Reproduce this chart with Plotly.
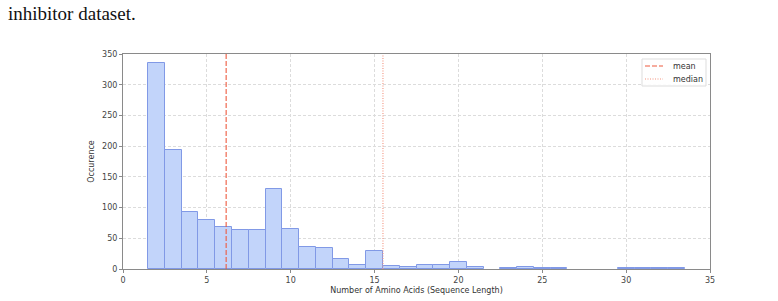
import plotly.graph_objects as go

# Data
bin_centers = list(range(2, 34))
counts = [335, 193, 93, 80, 68, 64, 64, 130, 65, 36, 34, 17, 6, 29, 5, 4,
          6, 6, 11, 3, 0, 2, 4, 1, 1, 0, 0, 0, 1, 2, 1, 1]
mean_value = 6.15
median_value = 15.5
x_ticks = [0, 5, 10, 15, 20, 25, 30, 35]
y_ticks = [0, 50, 100, 150, 200, 250, 300, 350]
legend_labels = ["mean", "median"]

font_family = "DejaVu Sans"
mean_color = "#ee5a3f"
median_color = "#f4937f"
mean_dash = "5px,2px"
median_dash = "1px,1.5px"

# empty bins draw nothing (as in a histogram)
bar_x = [c for c, n in zip(bin_centers, counts) if n > 0]
bar_y = [n for n in counts if n > 0]

fig = go.Figure()
fig.add_trace(go.Bar(
    x=bar_x, y=bar_y, width=1,
    marker=dict(color="#c2d4fa",
                line=dict(color="#8199e6", width=1)),
    showlegend=False, hoverinfo="x+y",
))
fig.add_trace(go.Scatter(
    x=[mean_value, mean_value], y=[0, 350], mode="lines", name="mean",
    line=dict(color=mean_color, width=1.1, dash=mean_dash), showlegend=False,
))
fig.add_trace(go.Scatter(
    x=[median_value, median_value], y=[0, 350], mode="lines", name="median",
    line=dict(color=median_color, width=1.1, dash=median_dash), showlegend=False,
))

axis_common = dict(
    showline=True, linecolor="#8a8a8a", linewidth=1, mirror=True,
    ticks="outside", ticklen=3, tickcolor="#8a8a8a",
    showgrid=True, gridcolor="#dcdcdc", griddash="3px,2px", gridwidth=0.8,
    zeroline=False, automargin=False,
    tickfont=dict(family=font_family, size=8, color="#444"),
    title_font=dict(family=font_family, size=8, color="#333"),
)

fig.update_xaxes(range=[0, 35], tickvals=x_ticks,
                 title_text="Number of Amino Acids (Sequence Length)",
                 title_standoff=3, **axis_common)
fig.update_yaxes(range=[0, 350], tickvals=y_ticks,
                 title_text="Occurence", title_standoff=6, **axis_common)

fig.add_annotation(text="inhibitor dataset.", xref="paper", yref="paper",
                   x=-117/587, y=1 + 53/215, xanchor="left", yanchor="top",
                   showarrow=False,
                   font=dict(family="Liberation Serif", size=19, color="#111"))

# Compact matplotlib-style legend box (plot area: x 123..710, y 54..269 px)
def px(xp):
    return (xp - 123) / 587

def py(yp):
    return (269 - yp) / 215

fig.add_shape(type="rect", xref="paper", yref="paper",
              x0=px(642), x1=px(706), y0=py(59), y1=py(86),
              line=dict(color="#dddddd", width=1), fillcolor="rgba(255,255,255,0.9)")
for i, (lab, col, dsh) in enumerate(zip(legend_labels, [mean_color, median_color],
                                          [mean_dash, median_dash])):
    yy = 66 + i * 13
    fig.add_shape(type="line", xref="paper", yref="paper",
                  x0=px(645), x1=px(663), y0=py(yy), y1=py(yy),
                  line=dict(color=col, width=1.1, dash=dsh))
    fig.add_annotation(text=lab, xref="paper", yref="paper",
                       x=px(671), y=py(yy), xanchor="left", yanchor="middle",
                       showarrow=False,
                       font=dict(family=font_family, size=8, color="#333"))

fig.update_layout(
    width=778, height=301,
    margin=dict(l=123, r=68, t=54, b=32),
    paper_bgcolor="white", plot_bgcolor="white",
    bargap=0, showlegend=False,
)

fig.write_html("out.html")
